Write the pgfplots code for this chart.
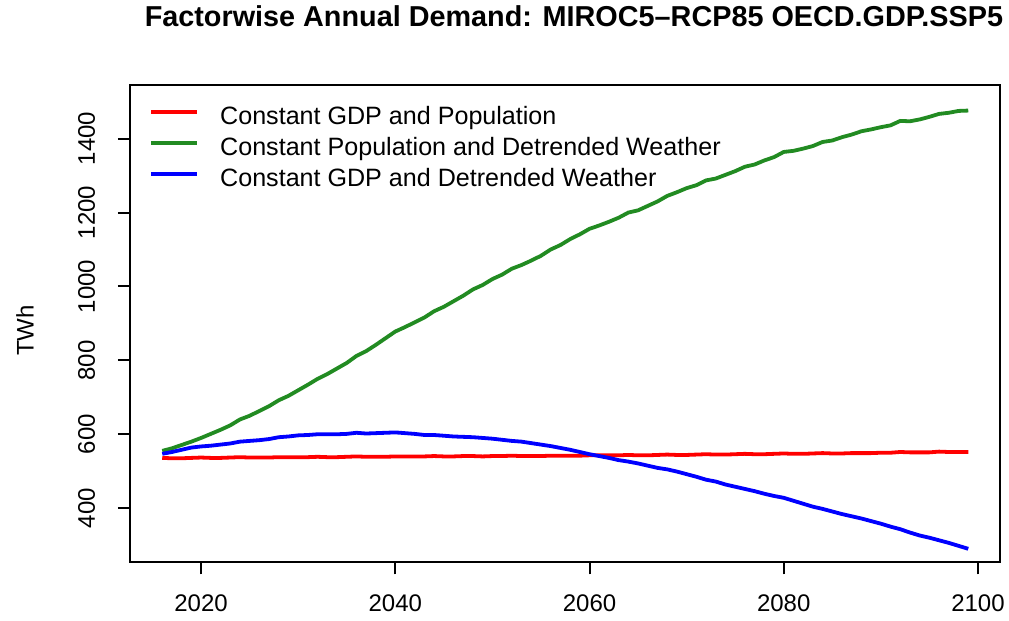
\documentclass[border=0pt]{standalone}
\usepackage{fontspec}
\setmainfont{Liberation Sans}
\usepackage{pgfplots}
\usepackage{pgfplotstable}
\pgfplotsset{compat=1.18}

\definecolor{rred}{RGB}{255,0,0}
\definecolor{rgreen}{RGB}{34,139,34}
\definecolor{rblue}{RGB}{0,0,255}

% Annual demand (TWh) by factor
\pgfplotstableread{
year  gdppop  popweather  gdpweather
2016  536  555  547
2017  535  562  552
2018  535  571  558
2019  536  580  564
2020  537  590  567
2021  536  601  569
2022  536  612  572
2023  537  624  575
2024  538  640  580
2025  537  650  582
2026  537  663  584
2027  537  676  587
2028  538  692  592
2029  538  704  594
2030  538  719  597
2031  538  734  598
2032  539  750  600
2033  538  763  600
2034  538  778  600
2035  539  793  601
2036  540  812  604
2037  539  825  602
2038  539  842  603
2039  539  860  604
2040  540  878  605
2041  540  890  603
2042  540  903  601
2043  540  916  598
2044  541  933  598
2045  540  945  596
2046  540  960  594
2047  541  975  593
2048  541  992  592
2049  540  1004 590
2050  541  1020 588
2051  541  1032 585
2052  542  1048 582
2053  541  1058 580
2054  541  1070 576
2055  541  1083 572
2056  542  1100 568
2057  542  1112 563
2058  542  1128 558
2059  542  1141 552
2060  543  1156 546
2061  543  1165 541
2062  543  1175 536
2063  543  1186 530
2064  544  1200 526
2065  543  1206 521
2066  543  1218 515
2067  544  1230 509
2068  545  1245 505
2069  544  1255 499
2070  544  1266 492
2071  545  1274 485
2072  546  1287 477
2073  545  1292 472
2074  545  1302 464
2075  546  1312 458
2076  547  1324 452
2077  546  1330 446
2078  546  1341 439
2079  547  1350 433
2080  548  1364 428
2081  547  1367 420
2082  547  1373 412
2083  548  1380 404
2084  549  1391 398
2085  548  1395 391
2086  548  1404 384
2087  549  1411 378
2088  549  1420 372
2089  549  1425 365
2090  550  1431 358
2091  550  1436 350
2092  552  1448 343
2093  551  1447 334
2094  551  1452 326
2095  551  1459 320
2096  553  1467 313
2097  552  1470 306
2098  552  1475 298
2099  552  1476 290
}\demand

\begin{document}
\begin{tikzpicture}
\useasboundingbox (0,0) rectangle (504.5pt,310.5pt);
\begin{axis}[
  at={(65pt,29.35pt)}, anchor=south west,
  scale only axis,
  width=435.25pt, height=238.8pt,
  xmin=2012.68, xmax=2102.32,
  ymin=253.5, ymax=1546,
  xtick={2020,2040,2060,2080,2100},
  ytick={400,600,800,1000,1200,1400},
  tick pos=left,
  tick align=outside,
  major tick length=6pt,
  axis line style={line width=1pt},
  every tick/.style={black, line width=1pt},
  /pgf/number format/assume math mode=true,
  /pgf/number format/1000 sep={},
  font=\fontsize{12}{14}\selectfont,
  xticklabel style={anchor=base, yshift=-18.85pt, inner sep=0pt},
  yticklabel style={xshift=-11.5pt, rotate=90, anchor=base, inner sep=0pt},
  ylabel={TWh},
  ylabel style={at={(axis description cs:-0.1206,0.485)}, anchor=center, rotate=0},
  title={\bfseries Factorwise Annual Demand: MIROC5–RCP85 OECD.GDP.SSP5},
  title style={at={(axis description cs:0.510,1.1187)}, anchor=center,
    font=\fontsize{14.4}{17}\selectfont},
  legend style={at={(axis description cs:0,1)}, anchor=north west,
    xshift=9.5pt, yshift=-11pt, draw=none, fill=none, inner sep=0pt,
    row sep=4.1pt,
    nodes={inner sep=0pt, text height=8.8pt, text depth=2.6pt,
      font=\fontsize{12.55}{14}\selectfont}},
  legend cell align=left,
  legend image code/.code={\draw[#1] (0pt,3.4pt) -- (23pt,3.4pt);
    \path (33.5pt,0pt);},
]
\addplot[rred, line width=1.9pt] table[x=year, y=gdppop] {\demand};
\addlegendentry{Constant GDP and Population}
\addplot[rgreen, line width=1.9pt] table[x=year, y=popweather] {\demand};
\addlegendentry{Constant Population and Detrended Weather}
\addplot[rblue, line width=1.9pt] table[x=year, y=gdpweather] {\demand};
\addlegendentry{Constant GDP and Detrended Weather}
\end{axis}
\end{tikzpicture}
\end{document}
